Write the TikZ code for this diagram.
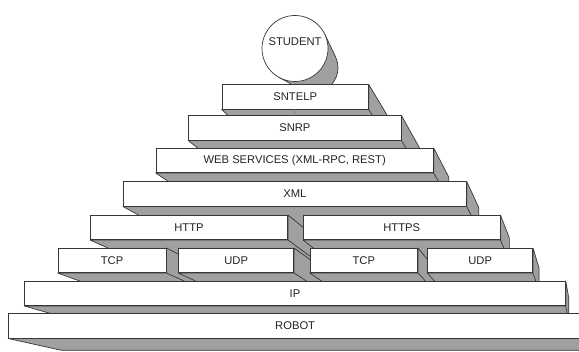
\documentclass[tikz,border=0pt]{standalone}
\usepackage{fontspec}
\setmainfont{Liberation Sans}
\usetikzlibrary{calc}
\pgfdeclarelayer{bg}
\pgfsetlayers{bg,main}
\definecolor{sidegray}{RGB}{160,160,160}
\definecolor{edgegray}{RGB}{55,55,55}
\definecolor{inkgray}{RGB}{35,35,35}
\definecolor{tickblue}{RGB}{105,135,175}
% fraction of the way from a front corner towards the vanishing point
\newcommand\slabdepth{0.09}
% front face as a node, bottom and right faces on the background layer
\newcommand\slabat[5]{%
  \node[slab, minimum width=#4pt] (#1) at (#2,#3) {#5};
  \begin{pgfonlayer}{bg}
    \path ($(#1.south west)!\slabdepth!(vp)$) coordinate (#1-bsw)
          ($(#1.south east)!\slabdepth!(vp)$) coordinate (#1-bse)
          ($(#1.north east)!\slabdepth!(vp)$) coordinate (#1-bne);
    \draw[side] (#1.south west) -- (#1-bsw) -- (#1-bse) -- (#1-bne)
                -- (#1.north east) -- (#1.south east) -- cycle;
    \draw[sideedge] (#1.south east) -- (#1-bse);
  \end{pgfonlayer}}
\begin{document}
\begin{tikzpicture}[x=1pt,y=-1pt,
  slab/.style={draw=edgegray, line width=0.7pt, fill=white, inner sep=0pt,
    anchor=north west, minimum height=24.3pt, text=inkgray,
    font=\fontsize{11.2}{13}\selectfont},
  side/.style={fill=sidegray, draw=edgegray, line width=0.7pt, line join=round},
  sideedge/.style={draw=edgegray, line width=0.7pt},
  label/.style={text=inkgray, font=\fontsize{11.2}{13}\selectfont, inner sep=0pt}]
\useasboundingbox (0,0) rectangle (579,352);
\clip (0,0) rectangle (579,352);
\coordinate (vp) at (600,470);

% the student cylinder: smaller back disc and tangent band behind the front disc
\coordinate (cylA1) at (324.8,34.3);
\coordinate (cylB1) at (335.6,56.9);
\coordinate (cylB2) at (300.9,89.6);
\coordinate (cylA2) at (279.0,77.3);
\begin{pgfonlayer}{bg}
  \fill[sidegray] (cylA1) -- (cylB1) -- (cylB2) -- (cylA2) -- cycle;
  \fill[sidegray] (313,67.7) circle[radius=25pt];
  \begin{scope}
    \clip (cylB1) -- (363,86) -- (328.3,118.7) -- (cylB2) -- cycle;
    \draw[sideedge] (313,67.7) circle[radius=25pt];
  \end{scope}
  \draw[sideedge] (cylA1) -- (cylB1);
  \draw[sideedge] (cylA2) -- (cylB2);
\end{pgfonlayer}
\node[circle, draw=edgegray, line width=0.7pt, fill=white, minimum size=66pt,
      inner sep=0pt] (student) at (295,48.5) {};
\node[label] (studentname) at ([yshift=6.8pt]student.center) {STUDENT};

% layers, top to bottom
\slabat{sntelp}{221.7}{84.5}{146.3}{SNTELP}
\slabat{snrp}{188.3}{115.5}{212.4}{SNRP}
\slabat{web}{155.7}{148}{277.3}{WEB SERVICES (XML-RPC, REST)}
\slabat{xml}{123}{181.5}{343}{XML}
\slabat{http}{90}{215}{197.3}{HTTP}
\slabat{https}{303}{215}{196.7}{HTTPS}
\slabat{tcpa}{57.7}{248}{108}{TCP}
\slabat{udpa}{178.3}{248}{115}{UDP}
\slabat{tcpb}{309.7}{248}{107.6}{TCP}
\slabat{udpb}{427.3}{248}{105}{UDP}
\slabat{ip}{24.3}{281}{540.7}{IP}
\slabat{robot}{8.3}{313.5}{573}{ROBOT}

\draw[tickblue, line width=0.6pt] (sntelp.south) -- (snrp.north);
\end{tikzpicture}
\end{document}
